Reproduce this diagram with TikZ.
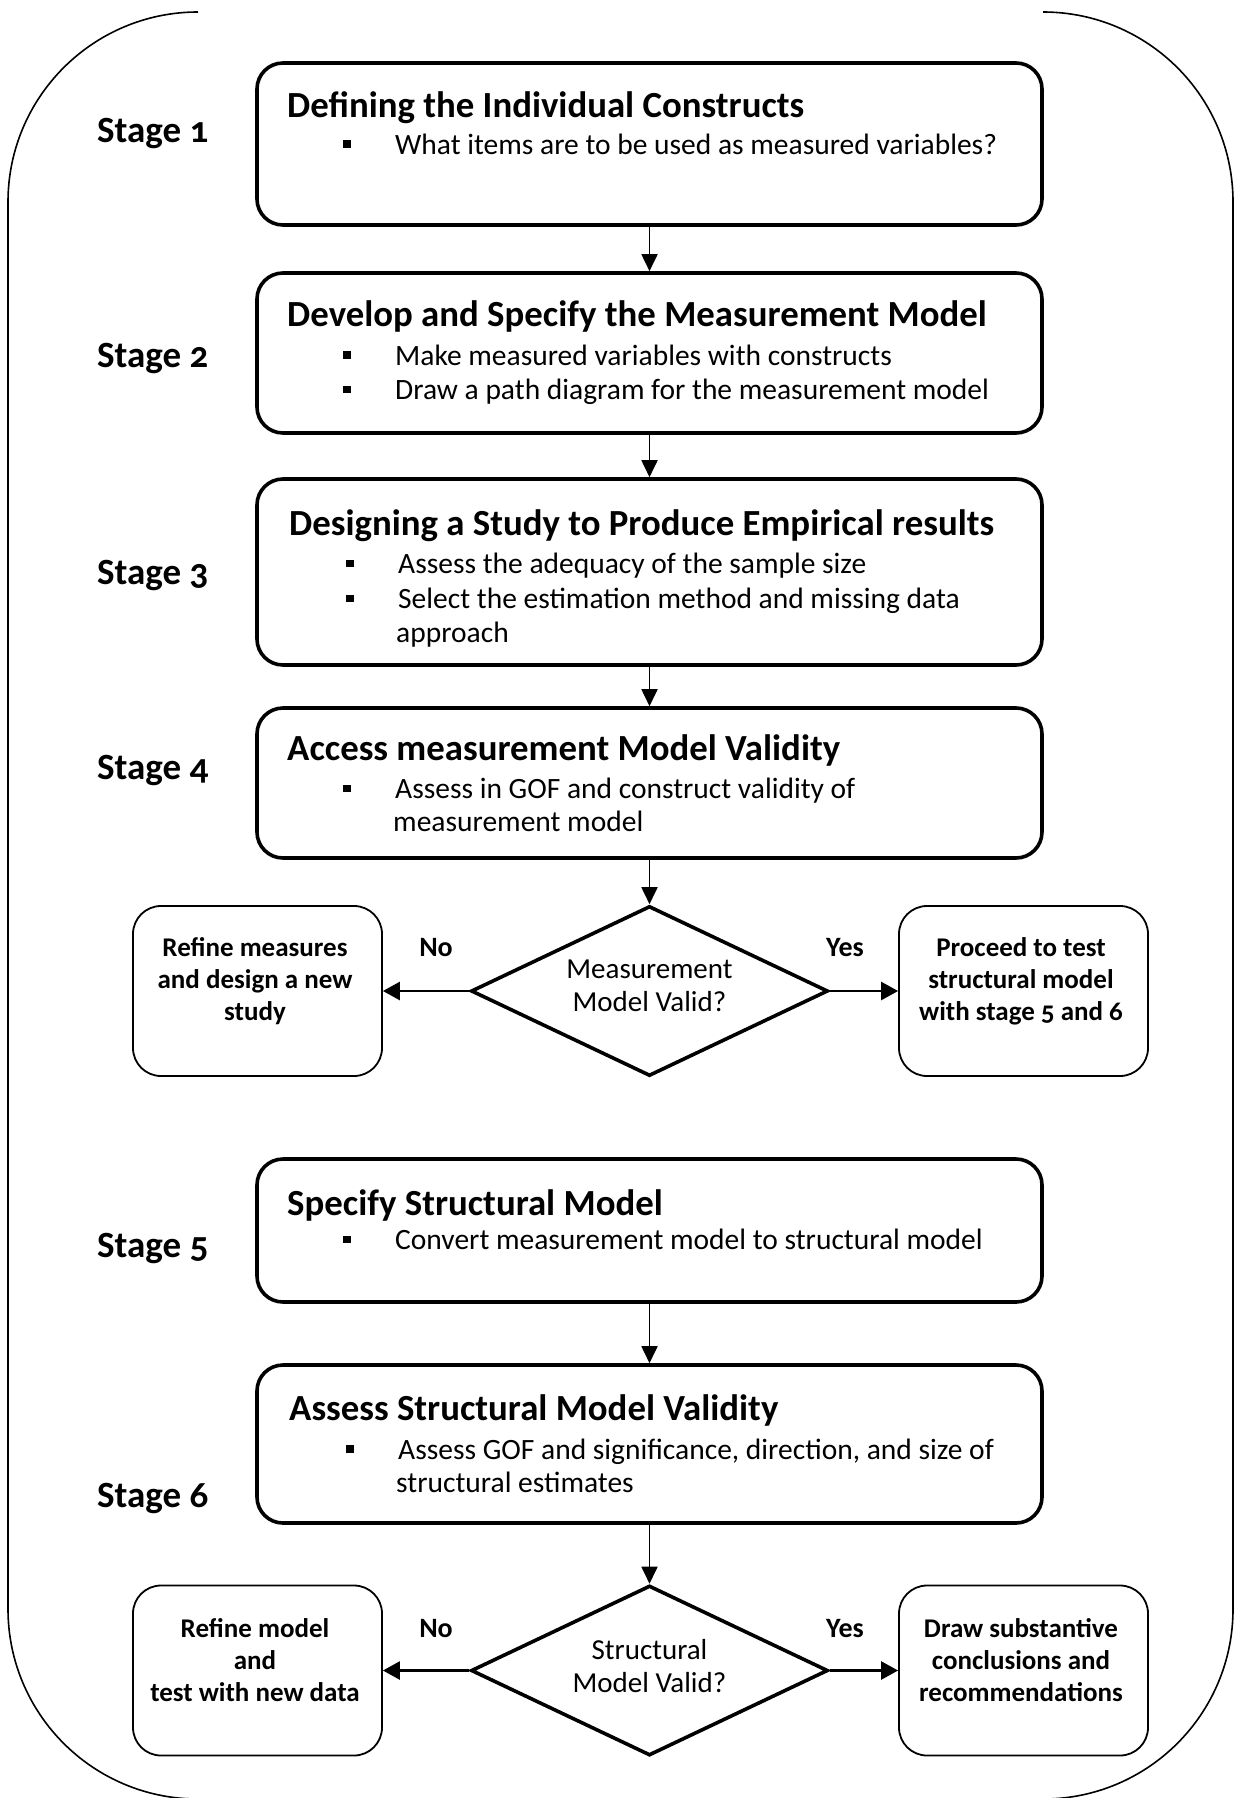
\documentclass[tikz,border=0pt]{standalone}
\usepackage{fontspec}
\setmainfont{Carlito}[Numbers=OldStyle]
\usetikzlibrary{shapes.geometric,arrows.meta}
\begin{document}
\begin{tikzpicture}[x=1pt,y=-1pt,
  mainbox/.style={draw, line width=3.6pt, rounded corners=26pt, minimum width=785pt, inner sep=0pt},
  sidebox/.style={draw, line width=1.8pt, rounded corners=28pt, minimum width=249pt, minimum height=170pt, inner sep=0pt},
  decision/.style={draw, diamond, line width=3.6pt, minimum width=357pt, minimum height=170pt, inner sep=0pt},
  txt/.style={anchor=west, inner sep=0pt},
  stagelbl/.style={txt, text height=26pt, text depth=1.6pt, font=\bfseries\fontsize{37}{40}\selectfont},
  boxtitle/.style={txt, text height=28pt, text depth=1.4pt, font=\bfseries\fontsize{36.8}{40}\selectfont},
  itemline/.style={txt, text height=21pt, text depth=1.2pt, font=\fontsize{29.5}{34}\selectfont},
  sidetext/.style={align=center, inner sep=0pt, font=\bfseries\fontsize{27}{32}\selectfont},
  dectext/.style={align=center, inner sep=0pt, font=\fontsize{29}{33}\selectfont},
  answer/.style={inner sep=0pt, font=\bfseries\fontsize{28}{32}\selectfont},
  arr/.style={line width=1.8pt, -{Triangle[length=17pt,width=16pt]}},
  harr/.style={line width=2.6pt, -{Triangle[length=17pt,width=18pt]}}
]
\newcommand{\sqbullet}{\rule[6.5pt]{7.5pt}{7.5pt}\hspace*{44.5pt}}
\useasboundingbox (0,0) rectangle (1234,1798);

% outer frame, open along the top
\draw[line width=1.6pt, rounded corners=190pt]
  (198,12) -- (8,12) -- (8,1799) -- (1233,1799) -- (1233,12) -- (1043,12);

% stage boxes
\node[mainbox, minimum height=162pt] (b1) at (649.5,144) {};
\node[mainbox, minimum height=160pt] (b2) at (649.5,353) {};
\node[mainbox, minimum height=186pt] (b3) at (649.5,572) {};
\node[mainbox, minimum height=150pt] (b4) at (649.5,783) {};
\node[mainbox, minimum height=143pt] (b5) at (649.5,1230.5) {};
\node[mainbox, minimum height=158pt] (b6) at (649.5,1444) {};

% decisions and outcomes
\node[decision] (d1) at (649.5,991) {};
\node[sidebox] (l1) at (257.5,991) {};
\node[sidebox] (r1) at (1023.5,991) {};
\node[decision] (d2) at (649.5,1670.5) {};
\node[sidebox] (l2) at (257.5,1670.5) {};
\node[sidebox] (r2) at (1023.5,1670.5) {};

% stage labels
\node[stagelbl] (s1) at (97,130) {Stage 1};
\node[stagelbl] (s2) at (97,355.5) {Stage 2};
\node[stagelbl] (s3) at (97,572) {Stage 3};
\node[stagelbl] (s4) at (97,767) {Stage 4};
\node[stagelbl] (s5) at (97,1245.5) {Stage 5};
\node[stagelbl] (s6) at (97,1495.5) {Stage 6};

% box contents
\node[boxtitle] (t1) at (287,104) {Defining the Individual Constructs};
\node[itemline] (i11) at (343,144.5) {\sqbullet What items are to be used as measured variables?};

\node[boxtitle] (t2) at (287,313) {Develop and Specify the Measurement Model};
\node[itemline] (i21) at (343,355.5) {\sqbullet Make measured variables with constructs};
\node[itemline] (i22) at (343,390) {\sqbullet Draw a path diagram for the measurement model};

\node[boxtitle] (t3) at (289,522) {Designing a Study to Produce Empirical results};
\node[itemline] (i31) at (346,564) {\sqbullet Assess the adequacy of the sample size};
\node[itemline] (i32) at (346,598.6) {\sqbullet Select the estimation method and missing data};
\node[itemline] (i33) at (396,633) {approach};

\node[boxtitle] (t4) at (287,747) {Access measurement Model Validity};
\node[itemline] (i41) at (343,789) {\sqbullet Assess in GOF and construct validity of};
\node[itemline] (i42) at (393,822) {measurement model};

\node[boxtitle] (t5) at (287,1202) {Specify Structural Model};
\node[itemline] (i51) at (343,1240) {\sqbullet Convert measurement model to structural model};

\node[boxtitle] (t6) at (289,1407) {Assess Structural Model Validity};
\node[itemline] (i61) at (346,1449.5) {\sqbullet Assess GOF and significance, direction, and size of};
\node[itemline] (i62) at (396,1483) {structural estimates};

% decision texts
\node[dectext] (dt1) at (649.5,986) {Measurement\\Model Valid?};
\node[dectext] (dt2) at (649.5,1666.5) {Structural\\Model Valid?};

% outcome texts
\node[sidetext] (lt1) at (255,981.5) {Refine measures\\and design a new\\study};
\node[sidetext] (rt1) at (1021,981.5) {Proceed to test\\structural model\\with stage 5 and 6};
\node[sidetext] (lt2) at (255,1660) {Refine model\\and\\test with new data};
\node[sidetext] (rt2) at (1021,1660) {Draw substantive\\conclusions and\\recommendations};

% answer labels
\node[answer] (no1) at (436,948) {No};
\node[answer] (yes1) at (845,948) {Yes};
\node[answer] (no2) at (436,1629) {No};
\node[answer] (yes2) at (845,1629) {Yes};

% connectors
\draw[arr] (b1.south) -- (b2.north);
\draw[arr] (b2.south) -- (b3.north);
\draw[arr] (b3.south) -- (b4.north);
\draw[arr] (b4.south) -- (d1.north);
\draw[harr] (d1.west) -- (l1.east);
\draw[harr] (d1.east) -- (r1.west);
\draw[arr] (b5.south) -- (b6.north);
\draw[arr] (b6.south) -- (d2.north);
\draw[harr] (d2.west) -- (l2.east);
\draw[harr] (d2.east) -- (r2.west);
\end{tikzpicture}
\end{document}
